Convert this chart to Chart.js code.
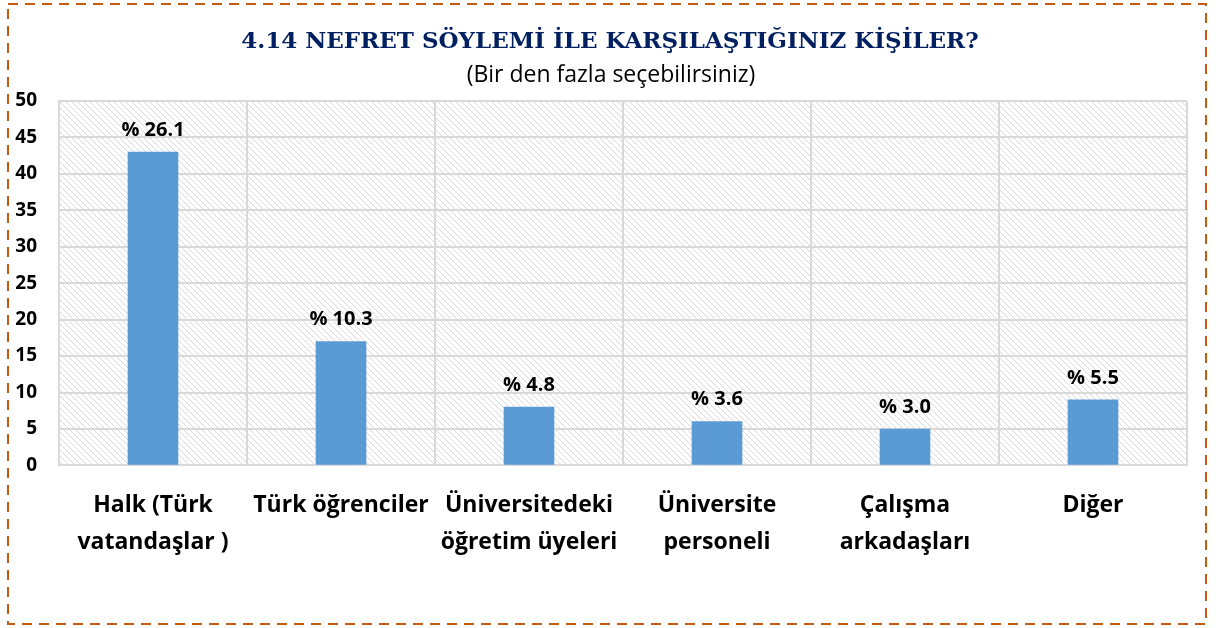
<!DOCTYPE html>
<html>
<head>
<meta charset="utf-8">
<script src="https://cdn.jsdelivr.net/npm/chart.js@4/dist/chart.umd.min.js"></script>
<style>
  html, body { margin: 0; padding: 0; background: #ffffff; }
  #wrap { width: 1229px; height: 628px; position: relative; }
</style>
</head>
<body>
<div id="wrap"><canvas id="chart"></canvas></div>
<script>
// Chart data
const categories = [
    ['Halk (Türk', 'vatandaşlar )'],
    'Türk öğrenciler',
    ['Üniversitedeki', 'öğretim üyeleri'],
    ['Üniversite', 'personeli'],
    ['Çalışma', 'arkadaşları'],
    'Diğer'
];
const counts = [43, 17, 8, 6, 5, 9];
const percentLabels = ['% 26.1', '% 10.3', '% 4.8', '% 3.6', '% 3.0', '% 5.5'];
const yTicks = [0, 5, 10, 15, 20, 25, 30, 35, 40, 45, 50];

const titleText = '4.14 NEFRET SÖYLEMİ İLE KARŞILAŞTIĞINIZ KİŞİLER?';
const subtitleText = '(Bir den fazla seçebilirsiniz)';

// Hatched background for the plot area
function makeHatch() {
    const c = document.createElement('canvas');
    c.width = 6;
    c.height = 6;
    const g = c.getContext('2d');
    g.fillStyle = '#ffffff';
    g.fillRect(0, 0, 6, 6);
    g.strokeStyle = '#d9d9d9';
    g.lineWidth = 1;
    g.beginPath();
    g.moveTo(0, 0); g.lineTo(6, 6);
    g.moveTo(-3, 3); g.lineTo(3, 9);
    g.moveTo(3, -3); g.lineTo(9, 3);
    g.stroke();
    return g.createPattern(c, 'repeat');
}

// frame, hatch and the two title lines
const frameAndHatch = {
    id: 'frameAndHatch',
    beforeDraw(chart) {
        const { ctx, chartArea: a } = chart;
        ctx.save();
        ctx.fillStyle = makeHatch();
        ctx.fillRect(a.left, a.top, a.right - a.left, a.bottom - a.top);
        // dashed outer frame
        ctx.strokeStyle = '#c55a11';
        ctx.lineWidth = 2;
        ctx.setLineDash([10, 7]);
        ctx.strokeRect(8, 4, 1198, 620);
        ctx.setLineDash([]);
        // titles
        ctx.textAlign = 'center';
        ctx.textBaseline = 'middle';
        ctx.fillStyle = '#002060';
        ctx.font = 'bold 23px "DejaVu Serif", serif';
        ctx.fillText(titleText, 610, 42);
        ctx.fillStyle = '#000000';
        ctx.font = '23px "Open Sans", sans-serif';
        ctx.fillText(subtitleText, 611, 75);
        ctx.restore();
    }
};

const barLabels = {
    id: 'barLabels',
    afterDatasetsDraw(chart) {
        const { ctx } = chart;
        const meta = chart.getDatasetMeta(0);
        ctx.save();
        ctx.font = 'bold 20px "Open Sans", sans-serif';
        ctx.fillStyle = '#000000';
        ctx.textAlign = 'center';
        ctx.textBaseline = 'middle';
        meta.data.forEach((bar, i) => {
            ctx.fillText(percentLabels[i], bar.x, bar.y - 22);
        });
        ctx.restore();
    }
};

const ctx = document.getElementById('chart').getContext('2d');
new Chart(ctx, {
    type: 'bar',
    data: {
        labels: categories,
        datasets: [{
            data: counts,
            backgroundColor: '#5b9bd5',
            borderWidth: 0,
            barThickness: 50
        }]
    },
    options: {
        responsive: true,
        maintainAspectRatio: false,
        animation: false,
        layout: {
            padding: { left: 12, right: 42, top: 101, bottom: 45 }
        },
        scales: {
            x: {
                afterFit(axis) {
                    // long category names should not push the plot inward
                    axis.paddingLeft = 0;
                    axis.paddingRight = 0;
                },
                grid: {
                    color: '#d9d9d9',
                    lineWidth: 2,
                    offset: true,
                    drawTicks: false
                },
                border: { color: '#d9d9d9', width: 2 },
                ticks: {
                    color: '#000000',
                    padding: 22,
                    maxRotation: 0,
                    autoSkip: false,
                    font: { family: '"Open Sans", sans-serif', size: 23, weight: 'bold', lineHeight: 1.6 }
                }
            },
            y: {
                min: 0,
                max: 50,
                afterBuildTicks(axis) {
                    axis.ticks = yTicks.map(v => ({ value: v }));
                },
                afterFit(axis) {
                    axis.width = 47;
                },
                grid: {
                    color: '#d9d9d9',
                    lineWidth: 2,
                    drawTicks: false
                },
                border: { color: '#d9d9d9', width: 2 },
                ticks: {
                    color: '#000000',
                    padding: 22,
                    font: { family: '"Open Sans", sans-serif', size: 19, weight: 'bold' }
                }
            }
        },
        plugins: {
            legend: { display: false },
            tooltip: { enabled: false },
            title: { display: false }
        }
    },
    plugins: [frameAndHatch, barLabels]
});
</script>
</body>
</html>
